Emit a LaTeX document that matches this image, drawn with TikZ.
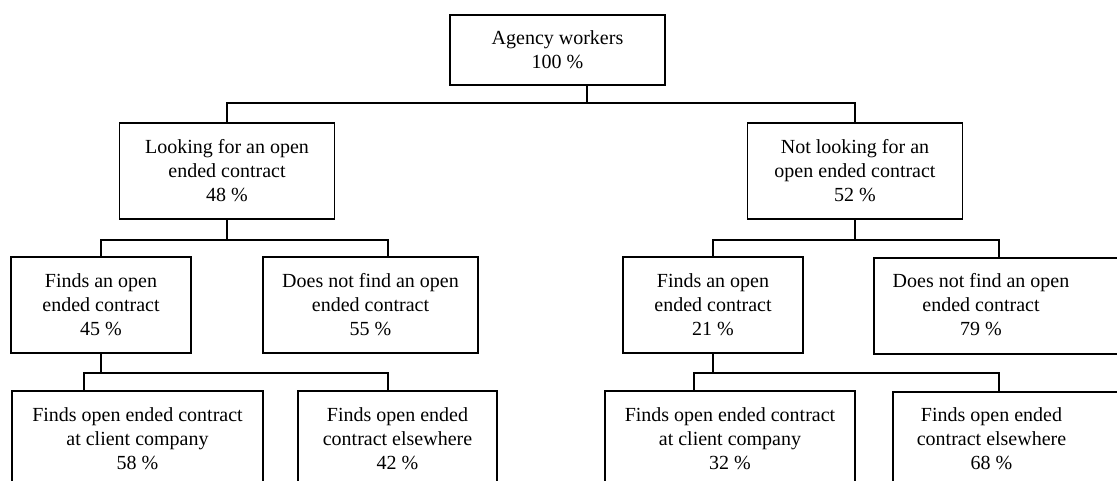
\documentclass[tikz,border=0pt]{standalone}
\usepackage{fontspec}
\setmainfont{Liberation Serif}
\begin{document}
\begin{tikzpicture}[x=1pt,y=-1pt,
  box/.style={draw, line width=1.7pt, rectangle, inner sep=0pt, minimum height=96pt,
    align=center, font=\fontsize{20}{24}\selectfont},
  plainbox/.style={draw, line width=1.7pt, rectangle, inner sep=0pt, minimum height=96pt},
  label/.style={inner sep=0pt, align=center, font=\fontsize{20}{24}\selectfont},
  conn/.style={line width=1.7pt}]
\useasboundingbox (0,0) rectangle (1117,480);
\clip (0,0) rectangle (1117,480);
% level 0
\node[box, minimum width=215pt, minimum height=70pt] (root) at (557.5,50) {Agency workers\\100 \%};
% level 1
\node[box, minimum width=215pt] (l1) at (227,171) {Looking for an open\\ended contract\\48 \%};
\node[box, minimum width=215pt] (r1) at (855,171) {Not looking for an\\open ended contract\\52 \%};
% level 2
\node[box, minimum width=180pt] (l2a) at (101,305) {Finds an open\\ended contract\\45 \%};
\node[box, minimum width=215pt] (l2b) at (370.5,305) {Does not find an open\\ended contract\\55 \%};
\node[box, minimum width=180pt] (r2a) at (713,305) {Finds an open\\ended contract\\21 \%};
\node[plainbox, minimum width=300pt, anchor=north west] (r2b) at (873,257) {};
\node[label] (r2bt) at (981,305) {Does not find an open\\ended contract\\79 \%};
% level 3
\node[box, minimum width=251pt] (l3a) at (137.5,439) {Finds open ended contract\\at client company\\58 \%};
\node[box, minimum width=199pt] (l3b) at (397.5,439) {Finds open ended\\contract elsewhere\\42 \%};
\node[box, minimum width=250pt] (r3a) at (730,439) {Finds open ended contract\\at client company\\32 \%};
\node[plainbox, minimum width=300pt, anchor=north west] (r3b) at (892,391) {};
\node[label] (r3bt) at (991.5,439) {Finds open ended\\contract elsewhere\\68 \%};
% junctions and drop points
\coordinate (j0) at (587,103);
\coordinate (j1) at (228,240);
\coordinate (j2) at (855,240);
\coordinate (d2b) at (388,257);
\coordinate (d2r) at (999,257);
\coordinate (j3) at (101,373);
\coordinate (d3a) at (84,391);
\coordinate (d3b) at (388,391);
\coordinate (j4) at (713,373);
\coordinate (d4a) at (694,391);
\coordinate (d4b) at (999,391);
% connectors
\draw[conn] (root.south -| j0) -- (j0);
\draw[conn] (l1.north) |- (j0) -| (r1.north);
\draw[conn] (l1.south) -- (l1.south |- j1);
\draw[conn] (l2a.north) |- (j1) -| (d2b);
\draw[conn] (r1.south) -- (j2);
\draw[conn] (r2a.north) |- (j2) -| (d2r);
\draw[conn] (l2a.south) -- (j3);
\draw[conn] (d3a) |- (j3) -| (d3b);
\draw[conn] (r2a.south) -- (j4);
\draw[conn] (d4a) |- (j4) -| (d4b);
\end{tikzpicture}
\end{document}
